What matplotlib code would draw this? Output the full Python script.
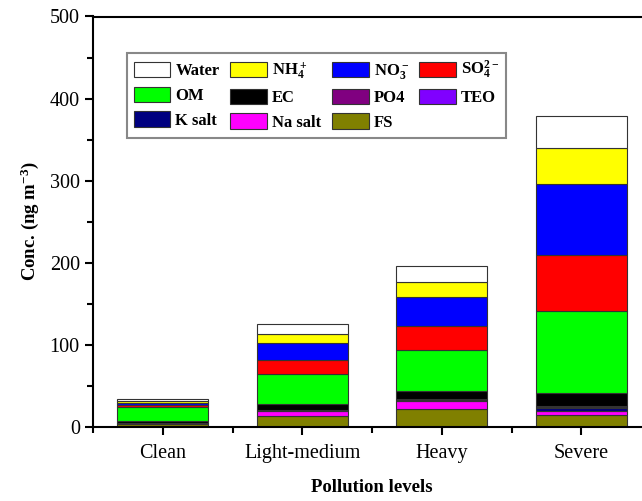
import numpy as np
import matplotlib
matplotlib.use("Agg")
import matplotlib.pyplot as plt
from matplotlib.ticker import MultipleLocator, FixedLocator

plt.rcParams['font.family'] = ['Liberation Serif', 'DejaVu Serif']
plt.rcParams['mathtext.fontset'] = 'custom'
plt.rcParams['mathtext.rm'] = 'Liberation Serif:bold'
plt.rcParams['mathtext.it'] = 'Liberation Serif:bold'
plt.rcParams['mathtext.bf'] = 'Liberation Serif:bold'
plt.rcParams['mathtext.default'] = 'rm'

levels = ['Clean', 'Light-medium', 'Heavy', 'Severe']

# stacked from bottom to top
fs = [4.0, 14.0, 22.5, 14.3]
na_salt = [0.4, 6.0, 8.9, 4.9]
k_salt = [0.4, 0.6, 1.5, 4.0]
teo = [0.2, 0.3, 0.5, 1.5]
po4 = [0.2, 0.3, 0.5, 1.4]
ec = [2.4, 6.4, 9.7, 15.4]
om = [16.3, 37.4, 50.7, 100.0]
so4 = [2.4, 16.6, 28.3, 68.0]
no3 = [3.3, 20.3, 35.2, 86.3]
nh4 = [1.9, 11.0, 19.4, 44.6]
water = [2.3, 12.2, 19.4, 38.4]

series = [
    ('FS', fs, '#808000'),
    ('Na salt', na_salt, '#FF00FF'),
    ('K salt', k_salt, '#000080'),
    ('TEO', teo, '#8000FF'),
    ('PO4', po4, '#800080'),
    ('EC', ec, '#000000'),
    ('OM', om, '#00FF00'),
    (r'SO$_4^{2-}$', so4, '#FF0000'),
    (r'NO$_3^-$', no3, '#0000FF'),
    (r'NH$_4^+$', nh4, '#FFFF00'),
    ('Water', water, '#FFFFFF'),
]

fig = plt.figure(figsize=(6.42, 5.01), dpi=100)
ax = fig.add_axes([93 / 642, 74 / 501, 558 / 642, 410.5 / 501])

x = np.arange(1, len(levels) + 1)
bottom = np.zeros(len(levels))
handles = {}
for name, vals, col in series:
    bars = ax.bar(x, vals, width=0.65, bottom=bottom, color=col,
                  edgecolor='#333333', linewidth=0.8, label=name)
    handles[name] = bars
    bottom += np.array(vals)

ax.set_xlim(0.5, 4.5)
ax.set_ylim(0, 500)
ax.set_xticks(x)
ax.set_xticklabels(levels, fontsize=14.5)
ax.xaxis.set_minor_locator(FixedLocator([0.5, 1.5, 2.5, 3.5, 4.5]))
ax.yaxis.set_major_locator(MultipleLocator(100))
ax.yaxis.set_minor_locator(MultipleLocator(50))
ax.tick_params(axis='y', labelsize=14.5)
ax.tick_params(which='major', direction='out', length=6, width=1.5)
ax.tick_params(which='minor', direction='out', length=4, width=1.5)
ax.tick_params(axis='x', pad=6)
ax.tick_params(top=False, right=False, which='both')
for s in ax.spines.values():
    s.set_linewidth(1.5)

ax.set_xlabel('Pollution levels', fontsize=13.5, fontweight='bold', labelpad=12)
ax.set_ylabel(r'Conc. (ng m$^{-3}$)', fontsize=13.5, fontweight='bold', labelpad=6)

order = ['Water', 'OM', 'K salt', r'NH$_4^+$', 'EC', 'Na salt',
         r'NO$_3^-$', 'PO4', 'FS', r'SO$_4^{2-}$', 'TEO']
leg = ax.legend([handles[n] for n in order], order, ncol=4,
                loc='upper left', bbox_to_anchor=(0.061, 0.912),
                borderaxespad=0, fancybox=False, framealpha=1,
                edgecolor='#888888', prop={'weight': 'bold', 'size': 12},
                handlelength=2.2, handleheight=1.05, handletextpad=0.3,
                columnspacing=0.65, labelspacing=0.45, borderpad=0.4)
leg.get_frame().set_linewidth(1.5)

fig.savefig('out.png', dpi=100)
